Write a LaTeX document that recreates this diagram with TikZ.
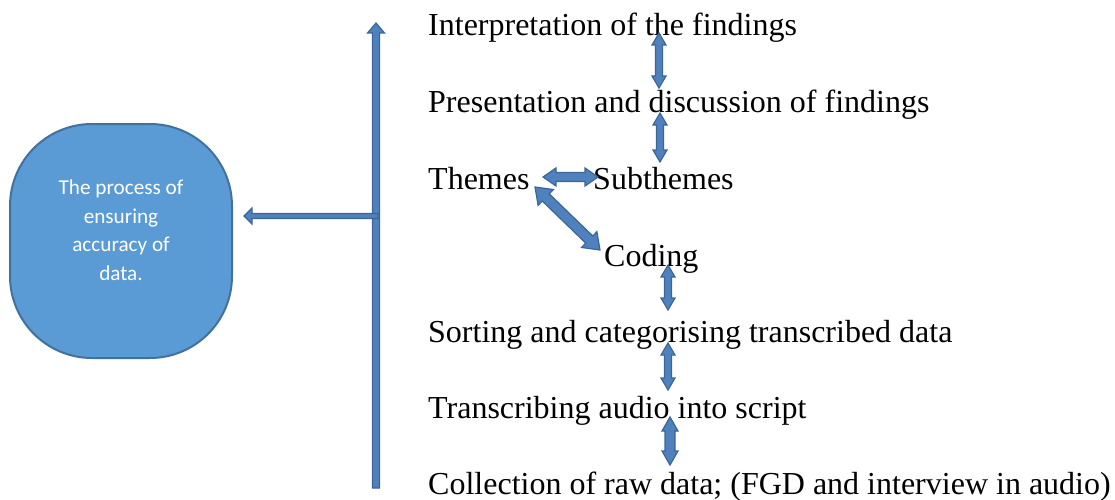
\documentclass[tikz,border=0pt]{standalone}
\usepackage{fontspec}
\setmainfont{Liberation Serif}
\newfontfamily\boxfont{Carlito}
\usetikzlibrary{calc}
\definecolor{arrowfill}{HTML}{4F81BD}
\definecolor{arrowline}{HTML}{3B6699}
\definecolor{boxfill}{HTML}{5B9BD5}
\definecolor{boxline}{HTML}{41719C}

% Block arrow with heads at both ends: from, to, shaft half width, head half width, head length
\newcommand\dblarrow[5]{%
  \coordinate (da) at ($(#1)!#5!(#2)$);
  \coordinate (db) at ($(#2)!#5!(#1)$);
  \draw[blockarrow] (#1) -- ($(da)!#4!90:(#2)$) -- ($(da)!#3!90:(#2)$)
    -- ($(db)!#3!-90:(#1)$) -- ($(db)!#4!-90:(#1)$) -- (#2)
    -- ($(db)!#4!90:(#1)$) -- ($(db)!#3!90:(#1)$)
    -- ($(da)!#3!-90:(#2)$) -- ($(da)!#4!-90:(#2)$) -- cycle;
}
% Block arrow with one head at the second point
\newcommand\sglarrow[5]{%
  \coordinate (db) at ($(#2)!#5!(#1)$);
  \draw[blockarrow] ($(#1)!#3!90:(#2)$) -- ($(db)!#3!-90:(#1)$)
    -- ($(db)!#4!-90:(#1)$) -- (#2) -- ($(db)!#4!90:(#1)$)
    -- ($(db)!#3!90:(#1)$) -- ($(#1)!#3!-90:(#2)$) -- cycle;
}

\begin{document}
\begin{tikzpicture}[x=1pt,y=-1pt,
  stage/.style={anchor=base west,inner sep=0pt,font=\fontsize{32}{38}\selectfont},
  blockarrow/.style={fill=arrowfill,draw=arrowline,line width=1.2pt,line join=miter},
  procbox/.style={fill=boxfill,draw=boxline,line width=2pt,rounded corners=82pt,
    minimum width=222pt,minimum height=234pt,inner sep=0pt},
  proctext/.style={text=white,align=center,inner sep=0pt,
    font=\boxfont\fontsize{21.2}{28.5}\selectfont}]
\useasboundingbox (0,0) rectangle (1115,500);

% stages of the analysis, bottom to top
\node[stage] (interp)  at (428,36)  {Interpretation of the findings};
\node[stage] (present) at (428,113) {Presentation and discussion of findings};
\node[stage] (themes)  at (428,189) {Themes};
\node[stage] (subth)   at (593,189) {Subthemes};
\node[stage] (coding)  at (604,266) {Coding};
\node[stage] (sorting) at (428,342) {Sorting and categorising transcribed data};
\node[stage] (transc)  at (428,418) {Transcribing audio into script};
\node[stage] (collect) at (428,494) {Collection of raw data; (FGD and interview in audio)};

% summary box
\node[procbox] (box) at (121,241) {};
\node[proctext] (boxtext) at (121,230) {The process of\\ensuring\\accuracy of\\data.};

% arrow end points
\coordinate (a1t) at ($(interp.base west)+(231,-3)$);
\coordinate (a1b) at ($(present.base west)+(231,-25)$);
\coordinate (a2t) at ($(present.base west)+(232,0)$);
\coordinate (a2b) at ($(themes.base west)+(232,-27)$);
\coordinate (a3l) at ($(themes.base west)+(115,-12)$);
\coordinate (a3r) at ($(subth.base west)+(5,-12)$);
\coordinate (a4a) at ($(themes.base west)+(107,-2)$);
\coordinate (a4b) at ($(coding.base west)+(-4,-16)$);
\coordinate (a5t) at ($(coding.base west)+(64,-1)$);
\coordinate (a5b) at ($(sorting.base west)+(240,-32)$);
\coordinate (a6t) at ($(sorting.base west)+(240,1)$);
\coordinate (a6b) at ($(transc.base west)+(240,-28)$);
\coordinate (a7t) at ($(transc.base west)+(242,-1)$);
\coordinate (a7b) at ($(collect.base west)+(242,-29)$);
\coordinate (spineBottom) at (376,488);
\coordinate (spineTop) at (376,23);
\coordinate (spineJoin) at (378,216);
\coordinate (boxTip) at ($(box.east |- spineJoin)+(11,0)$);

% connectors
\sglarrow{spineBottom}{spineTop}{3.5pt}{8.5pt}{10pt}
\sglarrow{spineJoin}{boxTip}{2.5pt}{8pt}{8pt}
\dblarrow{a1t}{a1b}{3.5pt}{7pt}{12pt}
\dblarrow{a2t}{a2b}{3.5pt}{7pt}{12pt}
\dblarrow{a3l}{a3r}{4.5pt}{9pt}{13pt}
\dblarrow{a4a}{a4b}{5pt}{11pt}{15pt}
\dblarrow{a5t}{a5b}{3.5pt}{7pt}{12pt}
\dblarrow{a6t}{a6b}{3.5pt}{7pt}{12pt}
\dblarrow{a7t}{a7b}{5pt}{8pt}{14pt}
\end{tikzpicture}
\end{document}
